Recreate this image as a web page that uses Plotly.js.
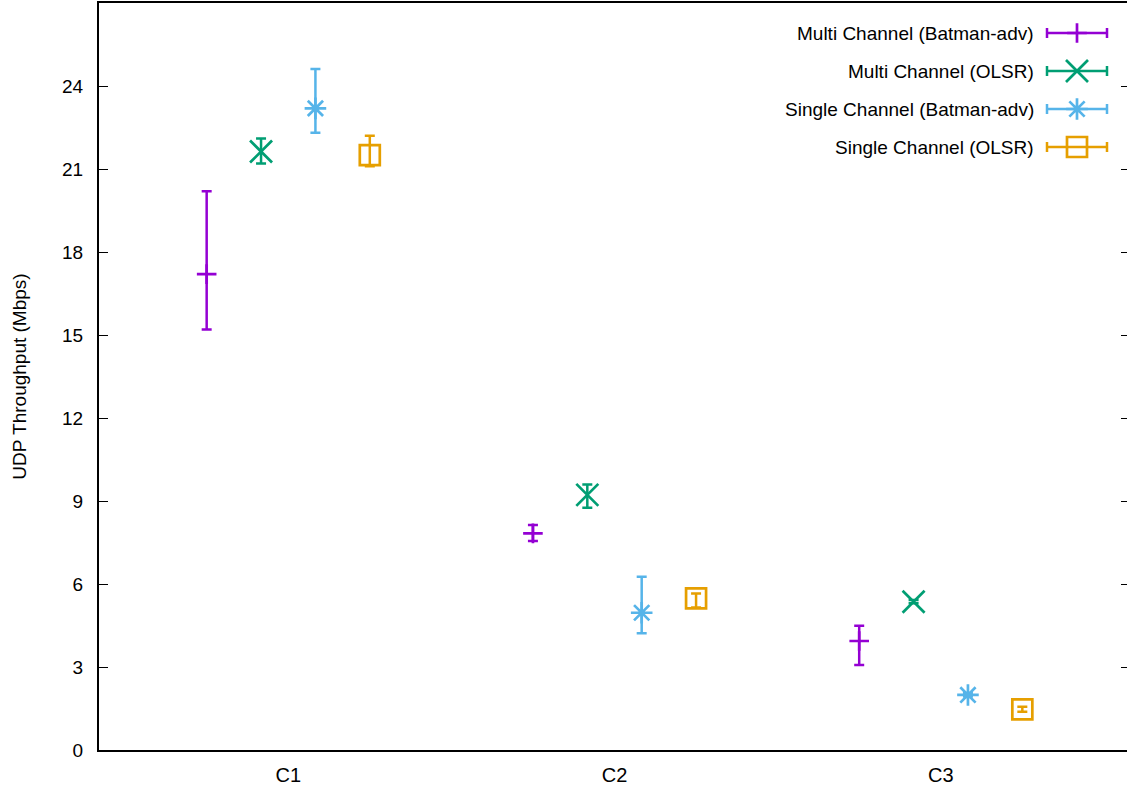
<!DOCTYPE html>
<html>
<head>
<meta charset="utf-8">
<script src="https://cdn.plot.ly/plotly-3.0.1.min.js"></script>
<style>
html, body { margin: 0; padding: 0; overflow: hidden; background: #fff; }
#chart { width: 1131px; height: 789px; }
</style>
</head>
<body>
<div id="chart"></div>
<script>
// ---- data ----
const categories = ['C1', 'C2', 'C3'];
const seriesNames = ['Multi Channel (Batman-adv)', 'Multi Channel (OLSR)', 'Single Channel (Batman-adv)', 'Single Channel (OLSR)'];

const multiBatman = [17.2, 7.83, 3.94];
const multiBatmanHigh = [20.2, 8.13, 4.49];
const multiBatmanLow = [15.2, 7.55, 3.07];

const multiOlsr = [21.63, 9.22, 5.36];
const multiOlsrHigh = [22.1, 9.6, 5.42];
const multiOlsrLow = [21.2, 8.76, 5.30];

const singleBatman = [23.19, 4.96, 1.99];
const singleBatmanHigh = [24.61, 6.26, 2.05];
const singleBatmanLow = [22.31, 4.22, 1.93];

const singleOlsr = [21.5, 5.48, 1.47];
const singleOlsrHigh = [22.2, 5.66, 1.56];
const singleOlsrLow = [21.1, 5.15, 1.38];

const yTicks = [0, 3, 6, 9, 12, 15, 18, 21, 24];

// ---- styles ----
const colors = ['#9400D3', '#009E73', '#56B4E9', '#E69F00'];
const symbols = ['cross-thin-open', 'x-thin-open', 'asterisk-open', 'square-open'];
const sizes = [14, 22, 18, 20];
const offsets = [-0.25, -1/12, 1/12, 0.25];
const font = 'Liberation Sans, Arial, Helvetica, sans-serif';

const series = [
  [multiBatman, multiBatmanHigh, multiBatmanLow],
  [multiOlsr, multiOlsrHigh, multiOlsrLow],
  [singleBatman, singleBatmanHigh, singleBatmanLow],
  [singleOlsr, singleOlsrHigh, singleOlsrLow]
];

const traces = [];
series.forEach(function (s, i) {
  const vals = s[0], hi = s[1], lo = s[2];
  traces.push({
    type: 'scatter', mode: 'markers', name: seriesNames[i], showlegend: false,
    x: categories.map(function (c, k) { return k + 1 + offsets[i]; }),
    y: vals,
    error_y: {
      type: 'data', symmetric: false,
      array: vals.map(function (v, k) { return hi[k] - v; }),
      arrayminus: vals.map(function (v, k) { return v - lo[k]; }),
      color: colors[i], thickness: 2.5, width: 5
    },
    marker: { symbol: symbols[i], size: sizes[i], color: colors[i], line: { color: colors[i], width: 2.7 } },
    cliponaxis: false
  });
});

// legend samples (drawn on a pixel-scaled overlay axis)
const legendRowsY = [33, 71, 109, 147];
const annotations = [];
seriesNames.forEach(function (name, i) {
  traces.push({
    type: 'scatter', mode: 'markers', showlegend: false, hoverinfo: 'skip',
    xaxis: 'x2', yaxis: 'y2',
    x: [1077], y: [legendRowsY[i]],
    error_x: { type: 'constant', value: 30, color: colors[i], thickness: 2.5, width: 5 },
    marker: { symbol: symbols[i], size: sizes[i], color: colors[i], line: { color: colors[i], width: 2.7 } },
    cliponaxis: false
  });
  annotations.push({
    xref: 'x2', yref: 'y2', x: 1036, y: legendRowsY[i], xanchor: 'right', yanchor: 'middle',
    text: name, showarrow: false, font: { family: font, size: 19, color: '#000' }
  });
});

const layout = {
  width: 1131, height: 789,
  margin: { l: 99, r: 1, t: 3, b: 39 },
  paper_bgcolor: '#fff', plot_bgcolor: '#fff',
  font: { family: font, size: 19, color: '#000' },
  showlegend: false,
  xaxis: {
    range: [0.42, 3.58], tickvals: [1, 2, 3], ticktext: categories,
    showgrid: false, zeroline: false, showline: true, linecolor: '#000', linewidth: 2, mirror: true,
    ticks: '', ticklabelstandoff: 6,
    tickfont: { family: font, size: 20, color: '#000' }
  },
  yaxis: {
    range: [0, 27], tickvals: yTicks, ticktext: yTicks.map(String),
    showgrid: false, zeroline: false, showline: true, linecolor: '#000', linewidth: 2, mirror: 'ticks',
    ticks: 'inside', ticklen: 9, tickwidth: 1, tickcolor: '#000', ticklabelstandoff: 10,
    tickfont: { family: font, size: 19, color: '#000' },
    title: { text: 'UDP Throughput (Mbps)', standoff: 30, font: { family: font, size: 19, color: '#000' } }
  },
  xaxis2: { overlaying: 'x', range: [99, 1130], visible: false, fixedrange: true },
  yaxis2: { overlaying: 'y', range: [750, 3], visible: false, fixedrange: true },
  annotations: annotations
};

Plotly.newPlot('chart', traces, layout, { displayModeBar: false, staticPlot: true });
</script>
</body>
</html>
